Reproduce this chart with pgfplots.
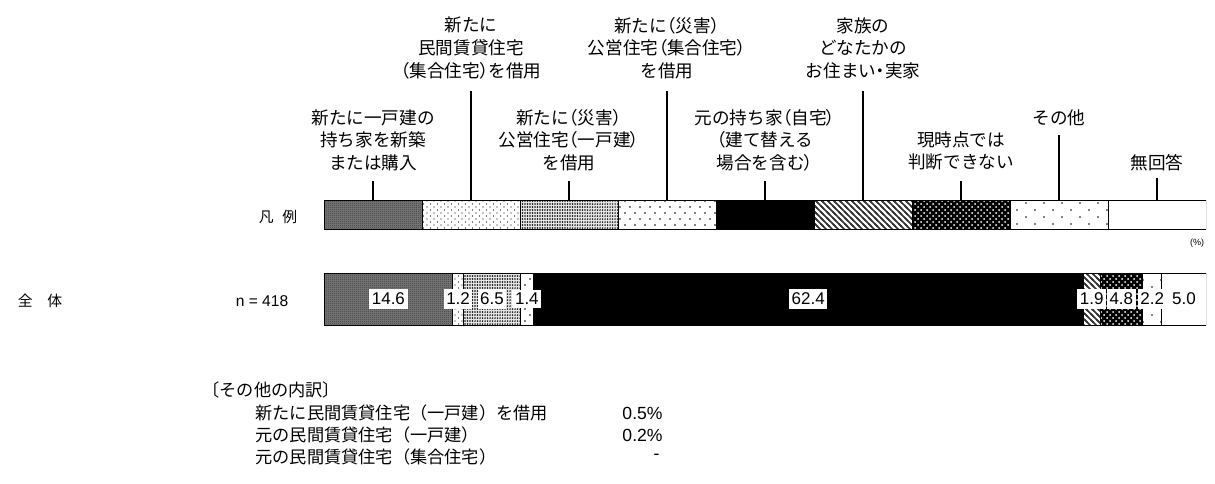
\documentclass[border=0pt]{standalone}
\usepackage{fontspec}
\setmainfont{Liberation Sans}
\newfontfamily\jp{Noto Sans CJK JP}
\newfontfamily\jpp[RawFeature=+palt]{Noto Sans CJK JP}
\newcommand\lp{{\jpp （}}
\newcommand\rp{{\jpp ）}}
\usepackage{pgfplots}
\pgfplotsset{compat=1.18}
\usetikzlibrary{patterns}

% patterns (units in pt; 1 px = 0.5pt)
\pgfdeclarepatternformonly{checkA}{\pgfqpoint{0pt}{0pt}}{\pgfqpoint{1pt}{1pt}}{\pgfqpoint{1pt}{1pt}}{%
  \pgfpathrectangle{\pgfqpoint{0pt}{0pt}}{\pgfqpoint{0.5pt}{0.5pt}}%
  \pgfpathrectangle{\pgfqpoint{0.5pt}{0.5pt}}{\pgfqpoint{0.5pt}{0.5pt}}%
  \pgfusepath{fill}}
\pgfdeclarepatternformonly{dotsB}{\pgfqpoint{-0.5pt}{-0.5pt}}{\pgfqpoint{4pt}{3.5pt}}{\pgfqpoint{3.5pt}{3pt}}{%
  \pgfpathcircle{\pgfqpoint{0pt}{0pt}}{0.32pt}%
  \pgfpathcircle{\pgfqpoint{1.75pt}{1.5pt}}{0.32pt}%
  \pgfusepath{fill}}
\pgfdeclarepatternformonly{dotsC}{\pgfqpoint{-0.5pt}{-0.5pt}}{\pgfqpoint{1.75pt}{2pt}}{\pgfqpoint{1.25pt}{1.5pt}}{%
  \pgfpathcircle{\pgfqpoint{0pt}{0pt}}{0.38pt}%
  \pgfusepath{fill}}
\pgfdeclarepatternformonly{dotsD}{\pgfqpoint{-0.5pt}{-0.5pt}}{\pgfqpoint{5.5pt}{6.5pt}}{\pgfqpoint{5pt}{6pt}}{%
  \pgfpathcircle{\pgfqpoint{0pt}{0pt}}{0.4pt}%
  \pgfpathcircle{\pgfqpoint{2.5pt}{3pt}}{0.4pt}%
  \pgfusepath{fill}}
\pgfdeclarepatternformonly{hatchE}{\pgfqpoint{-1pt}{-1pt}}{\pgfqpoint{4pt}{4pt}}{\pgfqpoint{3pt}{3pt}}{%
  \pgfsetlinewidth{0.85pt}%
  \pgfpathmoveto{\pgfqpoint{-1pt}{4pt}}\pgfpathlineto{\pgfqpoint{4pt}{-1pt}}%
  \pgfusepath{stroke}}
\pgfdeclarepatternformonly{dotsF}{\pgfqpoint{-0.6pt}{-0.6pt}}{\pgfqpoint{3.6pt}{3.6pt}}{\pgfqpoint{3pt}{3pt}}{%
  \pgfpathcircle{\pgfqpoint{0pt}{0pt}}{0.5pt}%
  \pgfpathcircle{\pgfqpoint{1.5pt}{1.5pt}}{0.5pt}%
  \pgfusepath{fill}}
\pgfdeclarepatternformonly{dotsG}{\pgfqpoint{-0.5pt}{-0.5pt}}{\pgfqpoint{9.5pt}{7.5pt}}{\pgfqpoint{9pt}{7pt}}{%
  \pgfpathcircle{\pgfqpoint{0pt}{0pt}}{0.42pt}%
  \pgfpathcircle{\pgfqpoint{4.5pt}{3.5pt}}{0.42pt}%
  \pgfusepath{fill}}

\pgfplotsset{
  sA/.style={fill=black!52, draw=black, line width=0.5pt, postaction={pattern=checkA, pattern color=black!78}},
  sB/.style={fill=white, draw=black, line width=0.5pt, postaction={pattern=dotsB, pattern color=black}},
  sC/.style={fill=black!10, draw=black, line width=0.5pt, postaction={pattern=dotsC, pattern color=black}},
  sD/.style={fill=white, draw=black, line width=0.5pt, postaction={pattern=dotsD, pattern color=black}},
  sE/.style={fill=black, draw=black, line width=0.5pt},
  sF/.style={fill=white, draw=black, line width=0.5pt, postaction={pattern=hatchE, pattern color=black!80}},
  sG/.style={fill=black, draw=black, line width=0.5pt, postaction={pattern=dotsF, pattern color=white}},
  sH/.style={fill=white, draw=black, line width=0.5pt, postaction={pattern=dotsG, pattern color=black}},
  sI/.style={fill=white, draw=black, line width=0.5pt},
  barbase/.style={scale only axis, width=441pt, xmin=0, xmax=100, ymin=-0.5, ymax=0.5,
    hide axis, anchor=north west},
}

\begin{document}
\begin{tikzpicture}
\path (0,0) rectangle (607.5pt,-241.5pt);

% legend bar (equal segments)
\begin{axis}[barbase, at={(162pt,-100pt)}, height=14.5pt, xbar stacked, bar width=14.5pt]
\addplot[sA] coordinates {(11.1111,0)};
\addplot[sB] coordinates {(11.1111,0)};
\addplot[sC] coordinates {(11.1111,0)};
\addplot[sD] coordinates {(11.1111,0)};
\addplot[sE] coordinates {(11.1111,0)};
\addplot[sF] coordinates {(11.1111,0)};
\addplot[sG] coordinates {(11.1111,0)};
\addplot[sH] coordinates {(11.1111,0)};
\addplot[sI] coordinates {(11.1112,0)};
\end{axis}

% data bar
\begin{axis}[barbase, at={(162pt,-136.5pt)}, height=26pt, xbar stacked, bar width=26pt]
\addplot[sA] coordinates {(14.6,0)};
\addplot[sB] coordinates {(1.2,0)};
\addplot[sC] coordinates {(6.5,0)};
\addplot[sD] coordinates {(1.4,0)};
\addplot[sE] coordinates {(62.4,0)};
\addplot[sF] coordinates {(1.9,0)};
\addplot[sG] coordinates {(4.8,0)};
\addplot[sH] coordinates {(2.2,0)};
\addplot[sI] coordinates {(5.0,0)};
\end{axis}

% value labels centred in the segments
\begin{axis}[barbase, at={(162pt,-136.5pt)}, height=26pt, clip=false,
  nodes near coords, point meta=explicit symbolic,
  every node near coord/.append style={anchor=center, fill=white, inner xsep=1.3pt, inner ysep=1.8pt,
    font=\fontsize{8.5pt}{10pt}\selectfont, text=black}]
\addplot[draw=none, mark=none] coordinates {
 (7.3,0) [14.6] (15.2,0) [1.2] (19.05,0) [6.5] (23.0,0) [1.4] (54.9,0) [62.4]
 (87.05,0) [1.9] (90.4,0) [4.8] (93.9,0) [2.2] (97.5,0) [5.0]};
\end{axis}

\begin{scope}[x=0.5pt, y=-0.5pt, every node/.style={inner sep=0pt, align=center,
   font=\jp\fontsize{8.8pt}{11.3pt}\selectfont}]
 % leader lines
 \draw[line width=0.6pt] (373,200) -- (373,181);
 \draw[line width=0.6pt] (471,200) -- (471,91);
 \draw[line width=0.6pt] (569,200) -- (569,181);
 \draw[line width=0.6pt] (667,200) -- (667,91);
 \draw[line width=0.6pt] (765,200) -- (765,181);
 \draw[line width=0.6pt] (863,200) -- (863,91);
 \draw[line width=0.6pt] (961,200) -- (961,181);
 \draw[line width=0.6pt] (1059,200) -- (1059,135);
 \draw[line width=0.6pt] (1157,200) -- (1157,178);
 % category labels
 \node at (373,140) {新たに一戸建の\\持ち家を新築\\または購入};
 \node at (471,48) {新たに\\民間賃貸住宅\\\lp 集合住宅\rp を借用};
 \node at (569,140) {新たに\lp 災害\rp\\公営住宅\lp 一戸建\rp\\を借用};
 \node at (667,48) {新たに\lp 災害\rp\\公営住宅\lp 集合住宅\rp\\を借用};
 \node at (765,140) {元の持ち家\lp 自宅\rp\\\lp 建て替える\\場合を含む\rp};
 \node at (863,48) {家族の\\どなたかの\\お住まい{\jpp ・}実家};
 \node at (961,151) {現時点では\\判断できない};
 \node at (1059,118) {その他};
 \node at (1157,163) {無回答};
 % row labels
 \node[font=\jp\fontsize{7.4pt}{9pt}\selectfont] at (278,217) {凡\hspace{0.6em}例};
 \node[font=\fontsize{4.5pt}{5pt}\selectfont] at (1197,243) {(\%)};
 \node[font=\jp\fontsize{7.4pt}{9pt}\selectfont] at (40,301) {全\hspace{1em}体};
 \node[font=\fontsize{7.8pt}{9pt}\selectfont] at (262,301) {n = 418};
 % breakdown of "other"
 \begin{scope}[every node/.style={inner sep=0pt, font=\jp\fontsize{8.6pt}{10pt}\selectfont}]
 \node[anchor=west] at (202,390) {〔その他の内訳〕};
 \node[anchor=west] at (255,413) {新たに民間賃貸住宅（一戸建）を借用};
 \node[anchor=west] at (255,435) {元の民間賃貸住宅（一戸建）};
 \node[anchor=west] at (255,457) {元の民間賃貸住宅（集合住宅）};
 \node[anchor=east, font=\fontsize{8.8pt}{10pt}\selectfont] at (663,413) {0.5\%};
 \node[anchor=east, font=\fontsize{8.8pt}{10pt}\selectfont] at (663,435) {0.2\%};
 \node[anchor=east, font=\fontsize{8.8pt}{10pt}\selectfont] at (660,457) {-};
 \end{scope}
\end{scope}
\end{tikzpicture}
\end{document}
